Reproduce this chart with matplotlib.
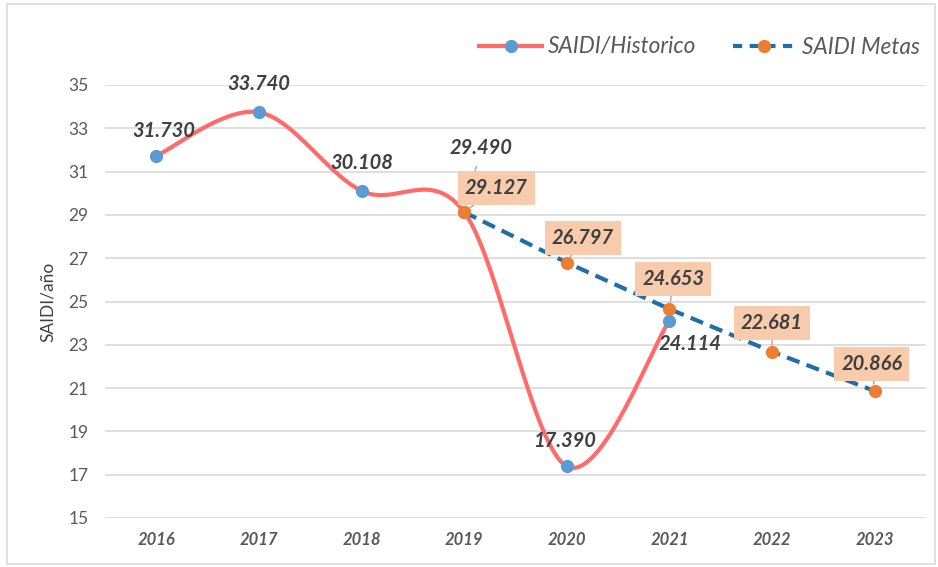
import numpy as np
import matplotlib
matplotlib.use("Agg")
import matplotlib.pyplot as plt
from matplotlib.lines import Line2D
from matplotlib.patches import Rectangle

plt.rcParams['font.family'] = ['Lato', 'DejaVu Sans']

years = ['2016', '2017', '2018', '2019', '2020', '2021', '2022', '2023']
hist_years = ['2016', '2017', '2018', '2019', '2020', '2021']
hist_values = [31.730, 33.740, 30.108, 29.127, 17.390, 24.114]
hist_labels = ['31.730', '33.740', '30.108', '29.490', '17.390', '24.114']
meta_years = ['2019', '2020', '2021', '2022', '2023']
meta_values = [29.127, 26.797, 24.653, 22.681, 20.866]
meta_labels = ['29.127', '26.797', '24.653', '22.681', '20.866']
y_ticks = [15, 17, 19, 21, 23, 25, 27, 29, 31, 33, 35]

RED = '#FF6B6B'
BLUE_M = '#5B9BD5'
DASH = '#1F6EA8'
ORANGE = '#ED7D31'
BOX = '#F8CBAD'
TXT = '#404040'


def smooth(xs, ys, n=40):
    xs = np.asarray(xs, float); ys = np.asarray(ys, float)
    P = np.column_stack([xs, ys])
    Pe = np.vstack([P[0], P, P[-1]])
    out = []
    for i in range(len(P) - 1):
        p0, p1, p2, p3 = Pe[i], Pe[i + 1], Pe[i + 2], Pe[i + 3]
        c1 = p1 + (p2 - p0) / 6.0
        c2 = p2 - (p3 - p1) / 6.0
        t = np.linspace(0, 1, n)[:, None]
        seg = (1 - t) ** 3 * p1 + 3 * (1 - t) ** 2 * t * c1 + 3 * (1 - t) * t ** 2 * c2 + t ** 3 * p2
        out.append(seg if i == 0 else seg[1:])
    out = np.vstack(out)
    return out[:, 0], out[:, 1]


fig = plt.figure(figsize=(9.38, 5.67), dpi=100)
ax = fig.add_axes([105 / 938, 1 - 518 / 567, (926 - 105) / 938, (518 - 85) / 567])

xi = {y: i for i, y in enumerate(years)}
hx = [xi[y] for y in hist_years]
mx = [xi[y] for y in meta_years]

sx, sy = smooth(hx, hist_values)
ax.plot(sx, sy, color=RED, lw=3.0, solid_capstyle='round', zorder=3)
ax.plot(hx, hist_values, 'o', color=BLUE_M, ms=8.5, zorder=4)
ax.plot(mx, meta_values, color=DASH, lw=3.0, dashes=(3.2, 1.8), zorder=5)
ax.plot(mx, meta_values, 'o', color=ORANGE, ms=8.5, zorder=6)

ax.set_xlim(-0.5, len(years) - 0.5)
ax.set_ylim(15, 35)
ax.set_yticks(y_ticks)
ax.set_xticks(range(len(years)))
ax.set_xticklabels(years, fontsize=12, fontweight='bold', fontstyle='italic', color='#595959')
ax.tick_params(axis='y', labelsize=12.5, labelcolor='#595959', length=0, pad=12)
ax.tick_params(axis='x', length=0, pad=10)
ax.grid(axis='y', color='#D9D9D9', lw=1.2)
ax.set_axisbelow(True)
for s in ax.spines.values():
    s.set_visible(False)
ax.set_ylabel('SAIDI/año', fontsize=12.5, color='#404040', labelpad=9)

lab_kw = dict(fontsize=14.5, fontweight='bold', fontstyle='italic', color=TXT,
              textcoords='offset pixels', ha='center', va='center', zorder=8)

hist_off = [(7, 25), (0, 28), (0, 28), (17, 64), (-2, 25), (21, -23)]
for x, v, t, off in zip(hx, hist_values, hist_labels, hist_off):
    arrow = None
    if t == '29.490':
        arrow = dict(arrowstyle='-', color='#A6A6A6', lw=1, shrinkA=4, shrinkB=28)
    ax.annotate(t, (x, v), xytext=off, arrowprops=arrow, **lab_kw)

meta_off = [(32, 24), (16, 25), (4, 30), (0, 29), (-3, 27)]
for x, v, t, off in zip(mx, meta_values, meta_labels, meta_off):
    ax.annotate(t, (x, v), xytext=off,
                bbox=dict(boxstyle='square,pad=0.35', fc=BOX, ec='none'),
                arrowprops=dict(arrowstyle='-', color='#A6A6A6', lw=1, shrinkA=0, shrinkB=5),
                **lab_kw)

h1 = Line2D([], [], color=RED, lw=3.0, marker='o', ms=8.5, mfc=BLUE_M, mec=BLUE_M)
h2 = Line2D([], [], color=DASH, lw=3.0, dashes=(2.2, 1.8), marker='o', ms=8.5, mfc=ORANGE, mec=ORANGE)
leg = fig.legend([h1, h2], ['SAIDI/Historico', 'SAIDI Metas'], loc='center right',
                 bbox_to_anchor=(940 / 938, 1 - 47 / 567), ncol=2, frameon=False,
                 handlelength=2.8, columnspacing=1.6, handletextpad=0.25, fontsize=16.3)
for t in leg.get_texts():
    t.set_fontstyle('italic')
    t.set_color('#595959')

fig.patches.append(Rectangle((7 / 938, 3 / 567), 928 / 938, 560 / 567, transform=fig.transFigure,
                             fill=False, ec='#D9D9D9', lw=1.2))

fig.savefig('out.png', dpi=100)
